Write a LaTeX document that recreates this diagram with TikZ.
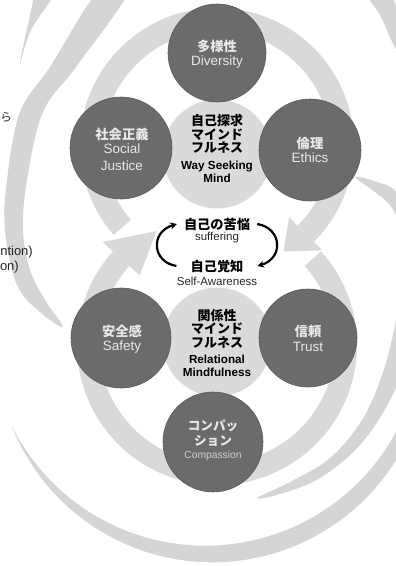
\documentclass[tikz,border=0pt]{standalone}
\usepackage{fontspec}
\setmainfont{Liberation Sans}
\newfontfamily\jp{Noto Sans CJK JP}
\usetikzlibrary{arrows.meta}
\definecolor{darkc}{HTML}{6B6B6B}
\definecolor{darkedge}{HTML}{5A5A5A}
\definecolor{lightc}{HTML}{DADADA}
\definecolor{ringc}{HTML}{D9D9D9}
\definecolor{swc}{HTML}{D5D5D5}
\definecolor{lighttext}{HTML}{E8E8E8}
\definecolor{comptext}{HTML}{CFCFCF}
\tikzset{
  dark/.style={circle, fill=darkc, draw=darkedge, line width=0.6pt, minimum size=100pt, inner sep=0pt},
  lightdisc/.style={circle, fill=lightc, minimum size=109pt, inner sep=0pt},
  jpdark/.style={text=lighttext, font=\jp\bfseries\fontsize{13.3}{15}\selectfont, align=center, inner sep=0pt},
  endark/.style={text=lighttext, font=\fontsize{13.5}{17}\selectfont, align=center, inner sep=0pt},
  jpcenter/.style={text=black, font=\jp\bfseries\fontsize{13}{13.4}\selectfont, align=center, inner sep=0pt},
  encenter/.style={text=black, font=\bfseries\fontsize{11.7}{13.3}\selectfont, align=center, inner sep=0pt},
  jpmid/.style={text=black, font=\jp\bfseries\fontsize{13.2}{15}\selectfont, inner sep=0pt},
  enmid/.style={text=black!85, font=\fontsize{11.5}{13}\selectfont, inner sep=0pt},
  frag/.style={text=black!85, inner sep=0pt, anchor=east},
  barrow/.style={line width=2.2pt, black, -{Stealth[length=6.5pt,width=7pt]}},
  ringfill/.style={fill=ringc},
  swfill/.style={fill=swc}
}
\begin{document}
\begin{tikzpicture}[x=1pt,y=-1pt]
\useasboundingbox (0,0) rectangle (396,566);
\clip (0,0) rectangle (396,566);

% ---------- outer swooshes ----------
% short top-left crescent
\fill[swfill] plot[smooth cycle, tension=0.6] coordinates {
  (37,-8) (28,25) (20,64) (31,30) (55,-8)};
% long left arc
\fill[swfill] plot[smooth cycle, tension=0.6] coordinates {
  (98,-8) (50,67) (20,112) (7,180) (5,230) (17,285) (40,312) (63,327)
  (45,300) (30,270) (23,230) (27,180) (43,112) (76,67) (128,-8)};
% top right arc
\fill[swfill] plot[smooth cycle, tension=0.6] coordinates {
  (366,-8) (380,15) (398,52) (412,50) (401,18) (388,-8)};
% right / lower right crescent
\fill[swfill] plot[smooth cycle, tension=0.6] coordinates {
  (355,177) (377,182) (396,192) (414,230) (420,290) (410,350) (390,400) (360,445) (320,478) (280,494) (257,498)
  (290,482) (330,458) (362,420) (382,375) (394,330) (402,280) (402,235) (392,208) (375,192)};
% big bottom arc
\fill[swfill] plot[domain=156:-20, samples=80, variable=\t]
  ({209+(216+9*sin(-1.0227*(\t-156)))*cos(\t)}, {338+(216+9*sin(-1.0227*(\t-156)))*sin(\t)})
  -- plot[domain=-20:156, samples=80, variable=\t]
  ({209+(216-9*sin(-1.0227*(\t-156)))*cos(\t)}, {338+(216-9*sin(-1.0227*(\t-156)))*sin(\t)})
  -- cycle;

% ---------- big ring arrows ----------
\coordinate (U) at (217,145);
\coordinate (L) at (217,345);
% upper ring
\fill[ringfill] ([shift={(139:137)}]U) arc[start angle=139, end angle=405, radius=137]
  -- ([shift={(405:114)}]U) arc[start angle=405, end angle=139, radius=114] -- cycle;
\fill[ringfill] ([shift={(405:102)}]U) -- ([shift={(418:125.5)}]U) -- ([shift={(405:149)}]U) -- cycle;
% lower ring
\fill[ringfill] ([shift={(-42:140)}]L) arc[start angle=-42, end angle=222, radius=140]
  -- ([shift={(222:118)}]L) arc[start angle=222, end angle=-42, radius=118] -- cycle;
\fill[ringfill] ([shift={(222:104)}]L) -- ([shift={(242:129)}]L) -- ([shift={(222:154)}]L) -- cycle;

% ---------- light discs ----------
\node[lightdisc] (wsm) at (217,154) {};
\node[lightdisc] (rel) at (217,342) {};

% ---------- dark circles ----------
\node[dark, minimum size=98pt] (div) at (217,53) {};
\node[dark, minimum size=102pt] (sj) at (121,148) {};
\node[dark, minimum size=102pt] (eth) at (310,150) {};
\node[dark] (saf) at (121,338) {};
\node[dark, minimum size=98pt] (tru) at (308,338) {};
\node[dark] (com) at (213,442) {};

% ---------- texts in dark circles ----------
\node[jpdark] (divj) at (217,46) {多様性};
\node[endark] (dive) at (217,62) {Diversity};
\node[jpdark] (sjj) at (122,134) {社会正義};
\node[endark] (sje) at (122,157.5) {Social\\Justice};
\node[jpdark] (ethj) at (310,143) {倫理};
\node[endark] (ethe) at (310,158) {Ethics};
\node[jpdark] (safj) at (122,331) {安全感};
\node[endark] (safe) at (122,347) {Safety};
\node[jpdark] (truj) at (308,331) {信頼};
\node[endark] (true) at (308,347) {Trust};
\node[jpdark, font=\jp\bfseries\fontsize{12.6}{15}\selectfont] (comj) at (213,433.5) {コンパッ\\ション};
\node[endark, text=comptext, font=\fontsize{10.3}{12}\selectfont] (come) at (213,456) {Compassion};

% ---------- centre texts ----------
\node[jpcenter] (wsmj) at (217,134) {自己探求\\マインド\\フルネス};
\node[encenter] (wsme) at (217,171.5) {Way Seeking\\Mind};
\node[jpcenter] (relj) at (217,328.5) {関係性\\マインド\\フルネス};
\node[encenter] (rele) at (217,366) {Relational\\Mindfulness};

% ---------- middle ----------
\node[jpmid] (t1) at (217,224) {自己の苦悩};
\node[enmid] (s1) at (217,238) {suffering};
\node[jpmid] (t2) at (217,266) {自己覚知};
\node[enmid] (s2) at (217,281) {Self-Awareness};
\draw[barrow] ([xshift=-14pt]t2.west) .. controls (152,262) and (150,232) .. ([xshift=-7pt]t1.west);
\draw[barrow] ([xshift=7pt]t1.east) .. controls (282,228) and (284,258) .. ([xshift=14pt]t2.east);

% ---------- cut-off fragments at left ----------
\node[frag, font=\jp\fontsize{11.5}{14}\selectfont] (f1) at (12,117) {ら};
\node[frag, font=\fontsize{13}{15}\selectfont] (f2) at (33,252) {ntion)};
\node[frag, font=\fontsize{13}{15}\selectfont] (f3) at (19,267) {on)};
\end{tikzpicture}
\end{document}
